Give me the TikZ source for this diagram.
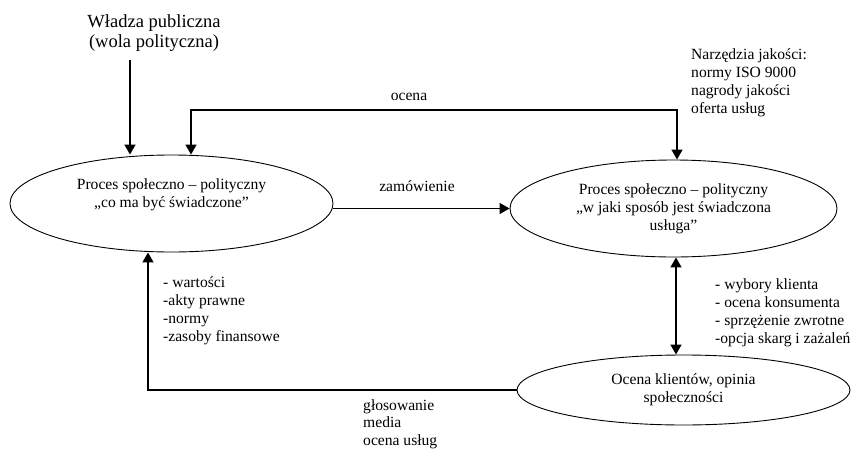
\documentclass[tikz,border=0pt]{standalone}
\usepackage{fontspec}
\setmainfont{Liberation Serif}
\usetikzlibrary{shapes.geometric,arrows.meta}
\begin{document}
\begin{tikzpicture}[x=1pt,y=-1pt,
  txt/.style={font=\fontsize{15.6}{18}\selectfont, inner sep=0pt},
  lst/.style={txt, anchor=north west, align=left},
  proc/.style={draw, line width=0.9pt, ellipse, inner sep=0pt, align=center,
    font=\fontsize{15.6}{18}\selectfont},
  arr/.style={line width=1.6pt, -{Triangle[length=10pt,width=11pt]}},
  darr/.style={line width=1.6pt, {Triangle[length=10pt,width=11pt]}-{Triangle[length=10pt,width=11pt]}}]
\useasboundingbox (0,0) rectangle (854,450);

% the three processes
\node[proc, minimum width=323pt, minimum height=97pt] (e1) at (171.5,203.5)
  {Proces społeczno – polityczny\\„co ma być świadczone”\\[-2pt]\strut};
\node[proc, minimum width=327pt, minimum height=97pt] (e2) at (673.5,208.5)
  {Proces społeczno – polityczny\\„w jaki sposób jest świadczona\\usługa”};
\node[proc, minimum width=333pt, minimum height=70pt] (e3) at (683.5,390)
  {Ocena klientów, opinia\\społeczności};

% sources and labels
\node[inner sep=0pt, align=center, font=\fontsize{18.5}{20}\selectfont] (wladza) at (154,33)
  {Władza publiczna\\(wola polityczna)};
\node[lst] (narz) at (691,48)
  {Narzędzia jakości:\\normy ISO 9000\\nagrody jakości\\oferta usług};
\node[txt] (ocena) at (409,97) {ocena};
\node[txt] (zam) at (417,186) {zamówienie};
\node[lst] (klient) at (715,278)
  {- wybory klienta\\- ocena konsumenta\\- sprzężenie zwrotne\\-opcja skarg i zażaleń};
\node[lst] (wart) at (163,276)
  {- wartości\\-akty prawne\\-normy\\-zasoby finansowe};
\node[lst, font=\fontsize{15.6}{17.5}\selectfont] (glos) at (363,399)
  {głosowanie\\media\\ocena usług};

% connector corners
\coordinate (wdown) at (130,60);
\coordinate (ocL) at (191,110);
\coordinate (ocR) at (677,110);
\coordinate (dbl) at (676,300);
\coordinate (fb) at (148,392);

% connectors
\draw[arr] (wdown) -- (wdown |- e1.north);
\draw[darr] (ocL |- e1.north) -- (ocL) -- (ocR) -- (ocR |- e2.north);
\draw[arr] (e2.west -| e1.east) -- (e2.west);
\draw[darr] (dbl |- e2.south) -- (dbl |- e3.north);
\draw[arr] (e3.west) -- (e3.west -| fb) -- (fb |- e1.south);
\end{tikzpicture}
\end{document}
